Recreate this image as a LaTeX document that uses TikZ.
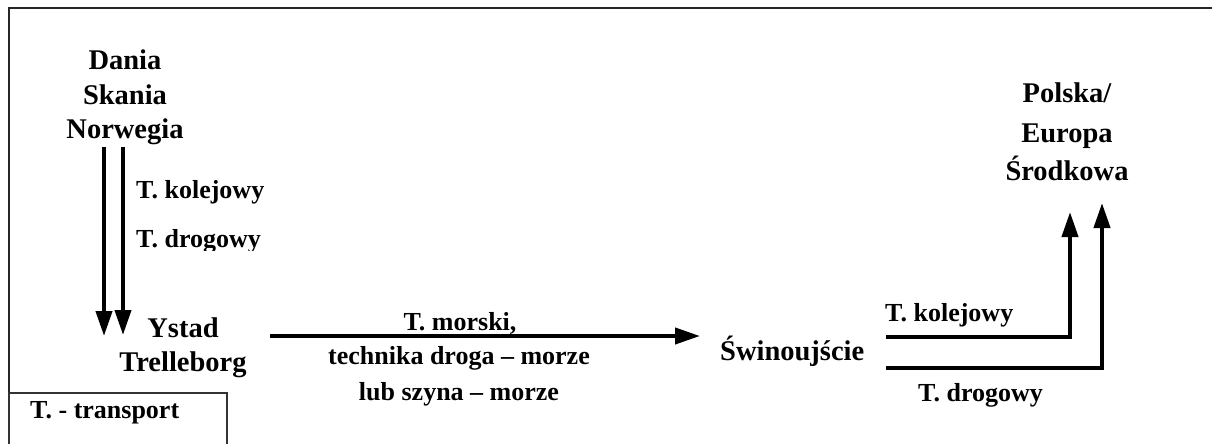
\documentclass[tikz,border=0pt]{standalone}
\usepackage{fontspec}
\setmainfont{Liberation Serif}
\usetikzlibrary{arrows.meta}
\tikzset{
  big/.style={font=\fontsize{28.5}{34}\selectfont\bfseries, inner sep=0pt},
  small/.style={font=\fontsize{26}{31}\selectfont\bfseries, inner sep=0pt},
  flow/.style={line width=4pt, line join=miter, -{Triangle[length=25pt,width=16pt]}},
  frame/.style={line width=2pt, black!85},
}
\begin{document}
\begin{tikzpicture}[x=1pt,y=-1pt]
\useasboundingbox (0,0) rectangle (1212,444);

% outer frame (top and left edges) and the legend box
\draw[frame] (1212,8) -- (9,8) -- (9,444);
\draw[line width=1.5pt, black!80] (9,444) -- (9,393) -- (227,393) -- (227,444);
\node[small, anchor=base west] (legend) at (30,418) {T. - transport};

% origin: Scandinavia
\node[big, anchor=base] (dania) at (125,70) {Dania};
\node[big, anchor=base] (skania) at (125,104) {Skania};
\node[big, anchor=base] (norwegia) at (125,138) {Norwegia};

% Swedish ports
\node[big, anchor=base] (ystad) at (183,337) {Ystad};
\node[big, anchor=base] (trelleborg) at (183,371) {Trelleborg};

% Polish port
\node[big, anchor=base west] (swin) at (720,360) {Świnoujście};

% destination
\node[big, anchor=base] (polska) at (1067,102) {Polska/};
\node[big, anchor=base] (europa) at (1067,142) {Europa};
\node[big, anchor=base] (srodkowa) at (1067,180) {Środkowa};

% arrow end points
\coordinate (railS) at (104,147);
\coordinate (railE) at (104,336);
\coordinate (roadS) at (123,147);
\coordinate (roadE) at (123,335);
\coordinate (seaS) at (270,336);
\coordinate (seaE) at (700,336);
\coordinate (plRailS) at (886,337);
\coordinate (plRailE) at (1070,212);
\coordinate (plRoadS) at (886,368);
\coordinate (plRoadE) at (1102,203);

% land transport to the Swedish ports
\draw[flow] (railS) -- (railE);
\draw[flow] (roadS) -- (roadE);
\node[small, anchor=base west] (lkol) at (136,198) {T. kolejowy};
\begin{scope}
  \clip (130,215) rectangle (300,250);
  \node[small, anchor=base west] (ldrog) at (136,247) {T. drogowy};
\end{scope}

% sea crossing
\draw[flow] (seaS) -- (seaE);
\node[small, anchor=base] (lmorski) at (460,330) {T. morski,};
\node[small, anchor=base] (ltech) at (459,364) {technika droga – morze};
\node[small, anchor=base] (llub) at (459,400) {lub szyna – morze};

% onward transport from Swinoujscie
\draw[flow] (plRailS) -| (plRailE);
\draw[flow] (plRoadS) -| (plRoadE);
\node[small, anchor=base west] (rkol) at (885,321) {T. kolejowy};
\node[small, anchor=base west] (rdrog) at (918,401) {T. drogowy};
\end{tikzpicture}
\end{document}
